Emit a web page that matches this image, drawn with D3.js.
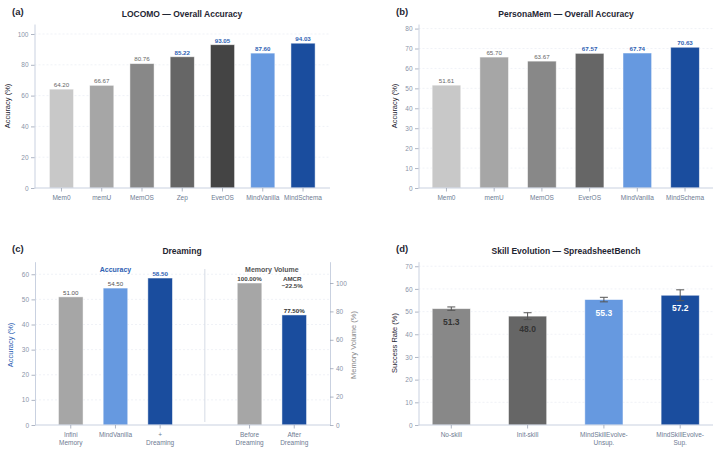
<!DOCTYPE html>
<html>
<head>
<meta charset="utf-8">
<script src="https://cdn.jsdelivr.net/npm/d3@7/dist/d3.min.js"></script>
<style>
  body { margin: 0; background: #fff; }
  svg text { font-family: "Liberation Sans", Arial, sans-serif; }
</style>
</head>
<body>
<div id="chart"></div>
<script>
// ---- data ----
const locomoCats = ["Mem0", "memU", "MemOS", "Zep", "EverOS", "MindVanilla", "MindSchema"];
const locomoVals = [64.20, 66.67, 80.76, 85.22, 93.05, 87.60, 94.03];
const locomoTicks = [0, 20, 40, 60, 80, 100];

const personaCats = ["Mem0", "memU", "MemOS", "EverOS", "MindVanilla", "MindSchema"];
const personaVals = [51.61, 65.70, 63.67, 67.57, 67.74, 70.63];
const personaTicks = [0, 10, 20, 30, 40, 50, 60, 70, 80];

const dreamCats = ["Infini\nMemory", "MindVanilla", "+\nDreaming"];
const dreamAcc = [51.00, 54.50, 58.50];
const dreamTicks = [0, 10, 20, 30, 40, 50, 60];
const volumeCats = ["Before\nDreaming", "After\nDreaming"];
const volumeVals = [100.00, 77.50];
const volumeTicks = [0, 20, 40, 60, 80, 100];
const amcrLabel = ["AMCR", "\u221222.5%"];

const skillCats = ["No-skill", "Init-skill", "MindSkillEvolve-\nUnsup.", "MindSkillEvolve-\nSup."];
const skillVals = [51.3, 48.0, 55.3, 57.2];
const skillErr = [0.75, 1.5, 1.0, 2.4];
const skillTicks = [0, 10, 20, 30, 40, 50, 60, 70];

// ---- style ----
const grey1 = "#c8c8c8", grey2 = "#a6a6a6", grey3 = "#888888", grey4 = "#666666", grey5 = "#444444";
const lightBlue = "#6699e0", darkBlue = "#1a4d9e";
const spineColor = "#c9d1e0", tickText = "#8a94a8", catText = "#6e7b92", titleColor = "#1f2633";
const gridColor = "#e9edf3";

const width = 720, height = 453;
const svg = d3.select("#chart").append("svg")
  .attr("width", width)
  .attr("height", height);

function yAxisLeft(g, y, ticks, x) {
  const ax = g.append("g")
    .attr("transform", `translate(${x},0)`)
    .call(d3.axisLeft(y).tickValues(ticks).tickSize(3.5).tickSizeOuter(0).tickPadding(2.5));
  styleAxis(ax);
  return ax;
}

function styleAxis(ax) {
  ax.select(".domain").attr("stroke", spineColor).attr("stroke-width", 1);
  ax.selectAll(".tick line").attr("stroke", "#9aa3b5").attr("stroke-width", 0.8);
  ax.selectAll(".tick text").attr("fill", tickText).style("font-size", "6.5px");
}

function xAxisBottom(g, x, cats, yPos, x0, x1) {
  g.append("line")
    .attr("x1", x0).attr("x2", x1)
    .attr("y1", yPos).attr("y2", yPos)
    .attr("stroke", spineColor);
  cats.forEach((c, i) => {
    if (c == null) return;
    const cx = x(i);
    g.append("line")
      .attr("x1", cx).attr("x2", cx)
      .attr("y1", yPos).attr("y2", yPos + 3.5)
      .attr("stroke", "#9aa3b5").attr("stroke-width", 0.8);
    const t = g.append("text")
      .attr("x", cx)
      .attr("y", yPos + 12)
      .attr("text-anchor", "middle")
      .attr("fill", catText)
      .style("font-size", "6.5px");
    c.split("\n").forEach((line, li) => {
      t.append("tspan").attr("x", cx).attr("dy", li === 0 ? 0 : 7.6).text(line);
    });
  });
}

function grid(g, y, ticks, x0, x1) {
  g.append("g").selectAll("line")
    .data(ticks.filter(d => d > 0))
    .join("line")
    .attr("x1", x0).attr("x2", x1)
    .attr("y1", d => y(d)).attr("y2", d => y(d))
    .attr("stroke", gridColor)
    .attr("stroke-width", 0.7)
    .attr("stroke-dasharray", "2,2");
}

function panelTitle(text, letter, lx, cx, yBase) {
  svg.append("text")
    .attr("x", lx).attr("y", yBase - 2)
    .attr("fill", titleColor)
    .style("font-size", "9.5px").style("font-weight", "bold")
    .text(letter);
  svg.append("text")
    .attr("x", cx).attr("y", yBase)
    .attr("text-anchor", "middle")
    .attr("fill", titleColor)
    .style("font-size", "8.5px").style("font-weight", "bold")
    .text(text);
}

function yLabel(text, x, cy, color) {
  svg.append("text")
    .attr("transform", `translate(${x},${cy}) rotate(-90)`)
    .attr("text-anchor", "middle")
    .attr("fill", color)
    .style("font-size", "7.5px")
    .text(text);
}

function bars(g, x, y, vals, colors, bw) {
  g.append("g").selectAll("rect")
    .data(vals)
    .join("rect")
    .attr("x", (d, i) => x(i) - bw / 2)
    .attr("y", d => y(d))
    .attr("width", bw)
    .attr("height", d => y(0) - y(d))
    .attr("fill", (d, i) => colors[i])
    .attr("stroke", "#ffffff")
    .attr("stroke-opacity", 0.6)
    .attr("stroke-width", 0.8);
}

function topLabels(g, x, y, vals, fmt, colors, bolds) {
  g.append("g").selectAll("text")
    .data(vals)
    .join("text")
    .attr("x", (d, i) => x(i))
    .attr("y", d => y(d) - 2.2)
    .attr("text-anchor", "middle")
    .attr("fill", (d, i) => colors[i])
    .style("font-size", "6.2px")
    .style("font-weight", (d, i) => bolds[i] ? "bold" : "normal")
    .text(fmt);
}

// ---- (a) LOCOMO ----
{
  const L = 34.5, R = 330, T = 24, B = 188;
  const g = svg.append("g");
  const y = d3.scaleLinear().domain([0, 106.5]).range([B, T]);
  const x = d3.scaleLinear().domain([-0.67, locomoCats.length - 1 + 0.67]).range([L, R]);
  const bw = (x(1) - x(0)) * 0.6;
  grid(g, y, locomoTicks, L, R);
  bars(g, x, y, locomoVals, [grey1, grey2, grey3, grey4, grey5, lightBlue, darkBlue], bw);
  const hi = locomoVals.map((d, i) => i >= 3);
  topLabels(g, x, y, locomoVals, d => d.toFixed(2),
    hi.map(h => h ? "#2f5fb3" : "#666"), hi);
  yAxisLeft(g, y, locomoTicks, L);
  xAxisBottom(g, x, locomoCats, B, L, R);
  yLabel("Accuracy (%)", 10, (T + B) / 2, titleColor);
  panelTitle("LOCOMO \u2014 Overall Accuracy", "(a)", 12, 182, 17);
}

// ---- (b) PersonaMem ----
{
  const L = 418.5, R = 713, T = 24, B = 188;
  const g = svg.append("g");
  const y = d3.scaleLinear().domain([0, 82.3]).range([B, T]);
  const x = d3.scaleLinear().domain([-0.586, personaCats.length - 1 + 0.586]).range([L, R]);
  const bw = (x(1) - x(0)) * 0.6;
  grid(g, y, personaTicks, L, R);
  bars(g, x, y, personaVals, [grey1, grey2, grey3, grey4, lightBlue, darkBlue], bw);
  const hi = personaVals.map((d, i) => i >= 3);
  topLabels(g, x, y, personaVals, d => d.toFixed(2),
    hi.map(h => h ? "#2f5fb3" : "#666"), hi);
  yAxisLeft(g, y, personaTicks, L);
  xAxisBottom(g, x, personaCats, B, L, R);
  yLabel("Accuracy (%)", 397, (T + B) / 2, titleColor);
  panelTitle("PersonaMem \u2014 Overall Accuracy", "(b)", 396, 566, 17);
}

// ---- (c) Dreaming ----
{
  const L = 35, R = 330, T = 261.7, B = 425;
  const g = svg.append("g");
  const y = d3.scaleLinear().domain([0, 65]).range([B, T]);
  const y2 = d3.scaleLinear().domain([0, 115]).range([B, T]);
  const x = d3.scaleLinear().domain([-0.8, 5.8]).range([L, R]);
  const bw = (x(1) - x(0)) * 0.55;
  grid(g, y, dreamTicks, L, R);

  // accuracy group at positions 0..2, volume group at 4..5
  const xAcc = i => x(i);
  const xVol = i => x(i + 4);
  bars(g, xAcc, y, dreamAcc, [grey2, lightBlue, darkBlue], bw);
  bars(g, xVol, y2, volumeVals, [grey2, darkBlue], bw);

  topLabels(g, xAcc, y, dreamAcc, d => d.toFixed(2), ["#555", "#555", "#2f5fb3"], [false, false, true]);
  topLabels(g, xVol, y2, volumeVals, d => d.toFixed(2) + "%", ["#444", "#333"], [true, true]);

  g.append("line")
    .attr("x1", x(3)).attr("x2", x(3))
    .attr("y1", 269).attr("y2", B - 3)
    .attr("stroke", "#d5dbe6").attr("stroke-width", 1);

  g.append("text")
    .attr("x", xAcc(1)).attr("y", 271.5)
    .attr("text-anchor", "middle")
    .attr("fill", "#2f5fb3")
    .style("font-size", "7px").style("font-weight", "bold")
    .text("Accuracy");
  g.append("text")
    .attr("x", (xVol(0) + xVol(1)) / 2).attr("y", 271.5)
    .attr("text-anchor", "middle")
    .attr("fill", "#555")
    .style("font-size", "7px").style("font-weight", "bold")
    .text("Memory Volume");
  const amcr = g.append("text")
    .attr("x", xVol(1) - 2).attr("y", 281)
    .attr("text-anchor", "middle")
    .attr("fill", "#444")
    .style("font-size", "6.2px").style("font-weight", "bold");
  amcrLabel.forEach((line, li) => {
    amcr.append("tspan").attr("x", xVol(1) - 2).attr("dy", li === 0 ? 0 : 6.8).text(line);
  });

  yAxisLeft(g, y, dreamTicks, L);
  const ax2 = g.append("g")
    .attr("transform", `translate(${R},0)`)
    .call(d3.axisRight(y2).tickValues(volumeTicks).tickSize(3.5).tickSizeOuter(0).tickPadding(2.5));
  styleAxis(ax2);
  xAxisBottom(g, x, [...dreamCats, null, ...volumeCats], B, L, R);
  yLabel("Accuracy (%)", 13, 345, "#2f5fb3");
  yLabel("Memory Volume (%)", 356, 345, "#888");
  panelTitle("Dreaming", "(c)", 12, 182, 254);
}

// ---- (d) Skill evolution ----
{
  const L = 418.5, R = 713, T = 261.7, B = 425;
  const g = svg.append("g");
  const y = d3.scaleLinear().domain([0, 72]).range([B, T]);
  const x = d3.scaleLinear().domain([-0.43, skillCats.length - 1 + 0.43]).range([L, R]);
  const bw = (x(1) - x(0)) * 0.5;
  grid(g, y, skillTicks, L, R);
  bars(g, x, y, skillVals, [grey3, grey4, lightBlue, darkBlue], bw);

  const eb = g.append("g").attr("stroke", "#555").attr("stroke-width", 1);
  skillVals.forEach((v, i) => {
    const cx = x(i), e = skillErr[i];
    eb.append("line").attr("x1", cx).attr("x2", cx).attr("y1", y(v - e)).attr("y2", y(v + e));
    eb.append("line").attr("x1", cx - 4).attr("x2", cx + 4).attr("y1", y(v - e)).attr("y2", y(v - e));
    eb.append("line").attr("x1", cx - 4).attr("x2", cx + 4).attr("y1", y(v + e)).attr("y2", y(v + e));
  });

  g.append("g").selectAll("text")
    .data(skillVals)
    .join("text")
    .attr("x", (d, i) => x(i))
    .attr("y", d => y(d) + 16)
    .attr("text-anchor", "middle")
    .attr("fill", (d, i) => i < 2 ? "#333" : "#fff")
    .style("font-size", "8.5px")
    .style("font-weight", "bold")
    .text(d => d.toFixed(1));

  yAxisLeft(g, y, skillTicks, L);
  xAxisBottom(g, x, skillCats, B, L, R);
  yLabel("Success Rate (%)", 397, 343, titleColor);
  panelTitle("Skill Evolution \u2014 SpreadsheetBench", "(d)", 396, 566, 254);
}
</script>
</body>
</html>
